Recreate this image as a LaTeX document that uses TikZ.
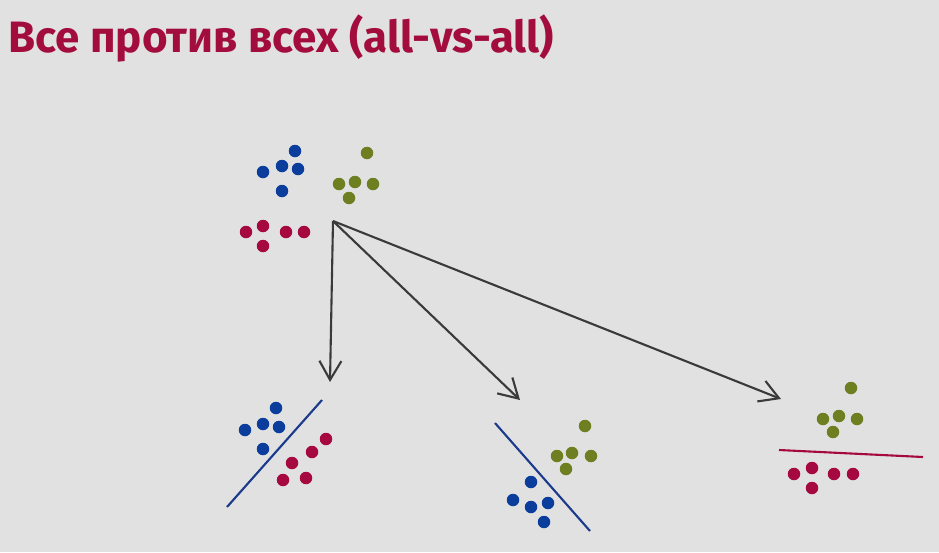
\documentclass[tikz,border=0pt]{standalone}
\usepackage{fontspec}
\setsansfont{Fira Sans}
\usetikzlibrary{arrows.meta}
\definecolor{slidebg}{HTML}{E1E1E1}
\definecolor{dotblue}{HTML}{0B3D9C}
\definecolor{dotgreen}{HTML}{6E7F22}
\definecolor{dotred}{HTML}{A5093F}
\definecolor{titlered}{HTML}{A30D3E}
\definecolor{sepblue}{HTML}{1B3A8C}
\definecolor{arrowgray}{HTML}{3A3A3A}

\begin{document}
\begin{tikzpicture}[
  x=0.02cm,y=-0.02cm,
  dot/.style={circle,inner sep=0pt,minimum size=0.25cm},
  bluedot/.style={dot,fill=dotblue},
  greendot/.style={dot,fill=dotgreen},
  reddot/.style={dot,fill=dotred},
  flow/.style={-{Straight Barb[length=0.38cm,width=0.44cm]},line width=1.2pt,draw=arrowgray},
  sep/.style={line width=1.2pt}
]
\fill[slidebg] (0,0) rectangle (939,552);
\node[anchor=base west,inner sep=0pt,text=titlered,font=\sffamily\bfseries\fontsize{25}{30}\selectfont] (title) at (8,52) {Все против всех (all-vs-all)};

% all three classes
\foreach \x/\y [count=\i] in {295/151,263/172,282/166,298/169,282/191}
  \node[bluedot] (tb\i) at (\x,\y) {};
\foreach \x/\y [count=\i] in {367/153,339/184,355/182,373/184,349/198}
  \node[greendot] (tg\i) at (\x,\y) {};
\foreach \x/\y [count=\i] in {246/232,263/226,286/232,304/232,263/246}
  \node[reddot] (tr\i) at (\x,\y) {};

\coordinate (src) at (333,221);
\coordinate (tipA) at (330,382);
\coordinate (tipB) at (520,400);
\coordinate (tipC) at (781,399);
\draw[flow] (src) -- (tipA);
\draw[flow] (src) -- (tipB);
\draw[flow] (src) -- (tipC);

% blue vs red
\foreach \x/\y [count=\i] in {276/408,245/430,263/424,279/427,263/449}
  \node[bluedot] (lb\i) at (\x,\y) {};
\foreach \x/\y [count=\i] in {326/439,312/452,292/463,283/480,306/478}
  \node[reddot] (lr\i) at (\x,\y) {};
\coordinate (sepA1) at (322,400);
\coordinate (sepA2) at (227,507);
\draw[sep,sepblue] (sepA1) -- (sepA2);

% green vs blue
\foreach \x/\y [count=\i] in {585/426,557/456,572/453,591/456,566/469}
  \node[greendot] (mg\i) at (\x,\y) {};
\foreach \x/\y [count=\i] in {531/482,513/500,531/507,548/503,544/522}
  \node[bluedot] (mb\i) at (\x,\y) {};
\coordinate (sepB1) at (495,423);
\coordinate (sepB2) at (590,531);
\draw[sep,sepblue] (sepB1) -- (sepB2);

% green vs red
\foreach \x/\y [count=\i] in {851/388,823/419,839/416,857/419,833/432}
  \node[greendot] (rg\i) at (\x,\y) {};
\foreach \x/\y [count=\i] in {794/474,812/468,834/474,853/474,812/488}
  \node[reddot] (rr\i) at (\x,\y) {};
\coordinate (sepC1) at (779,450);
\coordinate (sepC2) at (923,457);
\draw[sep,dotred] (sepC1) -- (sepC2);
\end{tikzpicture}
\end{document}
